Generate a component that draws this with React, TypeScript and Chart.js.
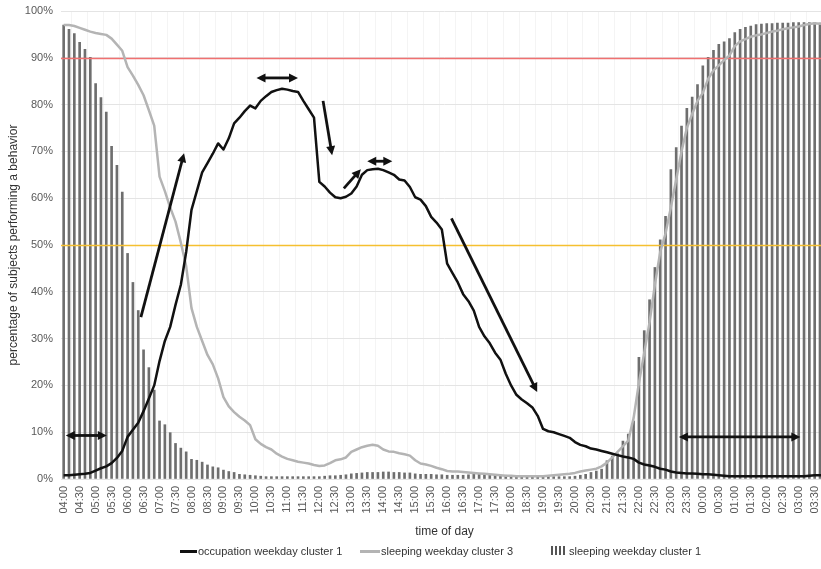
import { useEffect, useRef } from "react";
import { Chart, registerables } from "chart.js";

Chart.register(...registerables);

const FONT = '"Liberation Sans", Arial, sans-serif';

// Half-hour tick labels along the time-of-day axis (04:00 through 03:30)
const halfHourLabels = [
  "04:00", "04:30", "05:00", "05:30", "06:00", "06:30", "07:00", "07:30",
  "08:00", "08:30", "09:00", "09:30", "10:00", "10:30", "11:00", "11:30",
  "12:00", "12:30", "13:00", "13:30", "14:00", "14:30", "15:00", "15:30",
  "16:00", "16:30", "17:00", "17:30", "18:00", "18:30", "19:00", "19:30",
  "20:00", "20:30", "21:00", "21:30", "22:00", "22:30", "23:00", "23:30",
  "00:00", "00:30", "01:00", "01:30", "02:00", "02:30", "03:00", "03:30",
];

// Each half hour holds three 10-minute slots
const slotMinutes = ["00", "10", "20"];
const categories = halfHourLabels.flatMap((h) => {
  const [hh, mm] = h.split(":");
  const base = mm === "30" ? 30 : 0;
  return slotMinutes.map((m) => `${hh}:${String(base + Number(m)).padStart(2, "0")}`);
});

// occupation weekday cluster 1 (% of subjects), 10-minute resolution
const occupationCluster1 = [
  0.8, 0.8, 0.9, 1.0, 1.1, 1.3, 1.8, 2.3, 2.7, 3.4, 4.5, 6.0,
  9.0, 10.5, 12.0, 14.5, 17.2, 20.0, 25.2, 29.5, 32.5, 37.2, 41.5, 48.5,
  57.5, 61.5, 65.5, 67.5, 69.5, 71.7, 70.4, 72.8, 76.0, 77.2, 78.6, 79.8,
  79.2, 80.8, 81.8, 82.7, 83.1, 83.4, 83.2, 82.9, 82.7, 80.8, 79.0, 77.2,
  63.5, 62.5, 61.2, 60.2, 60.0, 60.3, 61.0, 62.5, 65.0, 66.0, 66.2, 66.3,
  66.0, 65.5, 65.0, 64.0, 63.8, 62.4, 60.2, 59.7, 58.3, 56.0, 54.8, 53.3,
  46.0, 44.0, 42.0, 39.5, 38.0, 36.0, 32.5, 30.5, 29.0, 27.0, 25.5, 22.5,
  20.0, 18.0, 17.0, 16.2, 15.3, 13.5, 10.7, 10.2, 10.0, 9.6, 9.2, 8.8,
  7.9, 7.3, 7.0, 6.5, 6.3, 6.0, 5.7, 5.4, 5.1, 4.8, 4.6, 4.3,
  3.5, 3.1, 2.9, 2.6, 2.2, 2.0, 1.6, 1.4, 1.3, 1.2, 1.2, 1.1,
  1.0, 1.0, 0.9, 0.8, 0.7, 0.6, 0.6, 0.6, 0.6, 0.6, 0.6, 0.6,
  0.6, 0.6, 0.6, 0.6, 0.6, 0.6, 0.6, 0.6, 0.7, 0.8, 0.8, 0.8,
];

// sleeping weekday cluster 3 (% of subjects)
const sleepingCluster3 = [
  97.0, 97.0, 96.8, 96.4, 96.0, 95.6, 95.3, 95.1, 94.9, 94.1, 92.8, 91.5,
  88.0, 86.2, 84.2, 82.0, 78.8, 75.5, 64.6, 61.5, 58.0, 55.0, 50.5, 45.5,
  36.5, 32.5, 29.5, 26.5, 24.5, 21.5, 17.5, 15.5, 14.3, 13.3, 12.5, 11.5,
  8.5, 7.5, 6.8, 6.3, 5.4, 4.8, 4.3, 4.0, 3.7, 3.5, 3.3, 3.0,
  2.8, 2.9, 3.4, 4.0, 4.2, 4.6, 5.8, 6.3, 6.8, 7.1, 7.3, 7.1,
  6.3, 5.9, 5.8, 5.5, 5.3, 5.0, 4.0, 3.3, 3.1, 2.8, 2.4, 2.1,
  1.7, 1.6, 1.6, 1.5, 1.4, 1.3, 1.2, 1.1, 1.0, 0.9, 0.8, 0.7,
  0.7, 0.6, 0.6, 0.6, 0.6, 0.6, 0.6, 0.7, 0.8, 0.9, 1.0, 1.1,
  1.3, 1.6, 1.8, 2.0, 2.2, 2.7, 3.5, 4.6, 5.8, 7.0, 8.2, 13.0,
  20.5, 27.0, 33.5, 41.5, 48.5, 52.5, 58.0, 64.0, 70.0, 75.0, 78.0, 80.8,
  82.5, 85.5, 87.3, 88.4, 89.5, 90.5, 92.5, 93.5, 94.0, 94.5, 94.8, 95.0,
  95.3, 95.6, 95.8, 96.1, 96.3, 96.5, 96.7, 97.0, 97.2, 97.4, 97.3, 97.2,
];

// sleeping weekday cluster 1 (% of subjects), drawn as thin bars
const sleepingCluster1 = [
  97.0, 96.1, 95.2, 93.3, 91.8, 90.1, 84.5, 81.5, 78.4, 71.1, 67.0, 61.3,
  48.2, 42.0, 36.0, 27.6, 23.8, 19.0, 12.4, 11.6, 9.9, 7.6, 6.6, 5.8,
  4.2, 4.0, 3.6, 3.0, 2.6, 2.4, 1.9, 1.6, 1.4, 1.0, 0.9, 0.8,
  0.7, 0.6, 0.5, 0.5, 0.5, 0.5, 0.5, 0.5, 0.5, 0.5, 0.5, 0.5,
  0.5, 0.6, 0.7, 0.7, 0.8, 0.9, 1.1, 1.2, 1.3, 1.4, 1.4, 1.4,
  1.5, 1.5, 1.4, 1.4, 1.3, 1.3, 1.1, 1.0, 1.0, 1.0, 0.9, 0.9,
  0.8, 0.8, 0.8, 0.8, 0.9, 1.0, 1.0, 1.0, 0.9, 0.9, 0.8, 0.8,
  0.7, 0.7, 0.6, 0.6, 0.6, 0.6, 0.6, 0.5, 0.5, 0.5, 0.5, 0.5,
  0.6, 0.8, 1.0, 1.4, 1.7, 2.1, 3.9, 4.9, 5.4, 8.1, 9.6, 12.4,
  26.0, 31.7, 38.3, 45.2, 51.1, 56.1, 66.1, 70.8, 75.4, 79.2, 81.6, 84.3,
  88.3, 90.1, 91.6, 92.9, 93.4, 94.1, 95.4, 96.1, 96.5, 96.8, 97.1, 97.2,
  97.3, 97.3, 97.4, 97.4, 97.4, 97.5, 97.5, 97.5, 97.5, 97.5, 97.4, 97.4,
];

// Reference levels (percent)
const thresholdLines = [
  { value: 90, color: "#f07070" },
  { value: 50, color: "#f5c030" },
];

// Trend arrows, in (slot index, percent) coordinates
const trendArrows = [
  { from: [0.4, 9.3], to: [8.1, 9.3], both: true },
  { from: [14.5, 34.6], to: [22.6, 69.6], both: false },
  { from: [36.2, 85.7], to: [44.0, 85.7], both: true },
  { from: [48.7, 80.8], to: [50.4, 69.2], both: false },
  { from: [52.6, 62.1], to: [55.8, 66.2], both: false },
  { from: [57.0, 67.9], to: [61.7, 67.9], both: true },
  { from: [72.8, 55.7], to: [88.9, 18.6], both: false },
  { from: [115.5, 9.0], to: [138.3, 9.0], both: true },
];

const thresholdPlugin = {
  id: "thresholds",
  afterDatasetDraw(chart: any, args: any) {
    if (args.index !== 2) return;
    const { ctx, chartArea, scales } = chart;
    ctx.save();
    ctx.lineWidth = 1.5;
    for (const t of thresholdLines) {
      const py = Math.round(scales.y.getPixelForValue(t.value)) + 0.5;
      ctx.strokeStyle = t.color;
      ctx.beginPath();
      ctx.moveTo(chartArea.left, py);
      ctx.lineTo(chartArea.right, py);
      ctx.stroke();
    }
    ctx.restore();
  },
};

function drawHead(ctx: CanvasRenderingContext2D, tipX: number, tipY: number, ang: number, len: number, half: number) {
  ctx.beginPath();
  ctx.moveTo(tipX, tipY);
  ctx.lineTo(tipX - len * Math.cos(ang) + half * Math.sin(ang), tipY - len * Math.sin(ang) - half * Math.cos(ang));
  ctx.lineTo(tipX - len * Math.cos(ang) - half * Math.sin(ang), tipY - len * Math.sin(ang) + half * Math.cos(ang));
  ctx.closePath();
  ctx.fill();
}

const arrowPlugin = {
  id: "trendArrows",
  afterDatasetsDraw(chart: any) {
    const { ctx, scales } = chart;
    const headLen = 9;
    const headHalf = 4.5;
    ctx.save();
    ctx.strokeStyle = "#111";
    ctx.fillStyle = "#111";
    ctx.lineWidth = 2.8;
    for (const a of trendArrows) {
      const x1 = scales.x.getPixelForValue(a.from[0]);
      const y1 = scales.y.getPixelForValue(a.from[1]);
      const x2 = scales.x.getPixelForValue(a.to[0]);
      const y2 = scales.y.getPixelForValue(a.to[1]);
      const ang = Math.atan2(y2 - y1, x2 - x1);
      const dx = Math.cos(ang) * (headLen - 1);
      const dy = Math.sin(ang) * (headLen - 1);
      ctx.beginPath();
      ctx.moveTo(a.both ? x1 + dx : x1, a.both ? y1 + dy : y1);
      ctx.lineTo(x2 - dx, y2 - dy);
      ctx.stroke();
      drawHead(ctx, x2, y2, ang, headLen, headHalf);
      if (a.both) drawHead(ctx, x1, y1, ang + Math.PI, headLen, headHalf);
    }
    ctx.restore();
  },
};

export default function App() {
  const canvasRef = useRef<HTMLCanvasElement | null>(null);

  useEffect(() => {
    document.body.style.margin = "0";
    document.body.style.overflow = "hidden";
    const canvas = canvasRef.current;
    if (!canvas) return;
    const chart = new Chart(canvas, {
      type: "bar",
      data: {
        labels: categories,
        datasets: [
          {
            type: "line",
            label: "occupation weekday cluster 1",
            data: occupationCluster1,
            borderColor: "#111111",
            borderWidth: 2.5,
            pointRadius: 0,
            tension: 0,
            borderJoinStyle: "round",
            order: 0,
          },
          {
            type: "line",
            label: "sleeping weekday cluster 3",
            data: sleepingCluster3,
            borderColor: "#b4b4b4",
            borderWidth: 2.5,
            pointRadius: 0,
            tension: 0,
            borderJoinStyle: "round",
            order: 1,
          },
          {
            type: "bar",
            label: "sleeping weekday cluster 1",
            data: sleepingCluster1,
            backgroundColor: "#6e6e6e",
            barThickness: 2,
            order: 2,
          },
        ],
      } as any,
      options: {
        animation: false,
        responsive: false,
        layout: { padding: { top: 11, right: 2, bottom: 26, left: 0 } },
        plugins: { legend: { display: false }, tooltip: { enabled: false } },
        scales: {
          x: {
            offset: true,
            grid: { color: "rgba(0,0,0,0.045)", drawTicks: false, offset: true },
            border: { display: false },
            ticks: {
              autoSkip: false,
              minRotation: 90,
              maxRotation: 90,
              padding: 7,
              color: "#595959",
              font: { size: 11, family: FONT },
              callback: (_v: any, i: number) => (i % 3 === 0 ? halfHourLabels[i / 3] : null),
            },
            title: {
              display: true,
              text: "time of day",
              color: "#333333",
              font: { size: 12, family: FONT },
              padding: { top: 4, bottom: 4 },
            },
            afterFit: (s: any) => {
              s.height = 64;
              s.paddingLeft = 0;
              s.paddingRight = 0;
            },
          },
          y: {
            min: 0,
            max: 100,
            grid: { color: "#e4e4e4", drawTicks: false },
            border: { display: false },
            ticks: {
              stepSize: 10,
              padding: 8,
              color: "#595959",
              font: { size: 11, family: FONT },
              callback: (v: any) => `${v}%`,
            },
            title: {
              display: true,
              text: "percentage of subjects performing a behavior",
              color: "#333333",
              font: { size: 12, family: FONT },
              padding: { top: 6, bottom: 4 },
            },
            afterFit: (s: any) => {
              s.width = 61;
              s.paddingTop = 0;
              s.paddingBottom = 0;
            },
          },
        },
      } as any,
      plugins: [thresholdPlugin, arrowPlugin],
    });
    return () => chart.destroy();
  }, []);

  const legendText: React.CSSProperties = {
    position: "absolute",
    top: 0,
    whiteSpace: "nowrap",
    lineHeight: "14px",
  };

  return (
    <div style={{ position: "relative", width: 821, height: 569, overflow: "hidden", background: "#ffffff" }}>
      <canvas ref={canvasRef} width={830} height={569} style={{ display: "block" }} />
      <div
        style={{
          position: "absolute",
          top: 544,
          left: 0,
          width: 821,
          height: 14,
          font: `11px ${FONT}`,
          color: "#333333",
        }}
      >
        <span style={{ position: "absolute", left: 180, top: 6, width: 17, height: 2.5, background: "#111111" }} />
        <span style={{ ...legendText, left: 198 }}>occupation weekday cluster 1</span>
        <span style={{ position: "absolute", left: 360, top: 6, width: 20, height: 2.5, background: "#b4b4b4" }} />
        <span style={{ ...legendText, left: 381 }}>sleeping weekday cluster 3</span>
        {[0, 1, 2, 3].map((k) => (
          <span
            key={k}
            style={{ position: "absolute", left: 551 + k * 4, top: 2, width: 1.5, height: 9, background: "#555555" }}
          />
        ))}
        <span style={{ ...legendText, left: 569 }}>sleeping weekday cluster 1</span>
      </div>
    </div>
  );
}
